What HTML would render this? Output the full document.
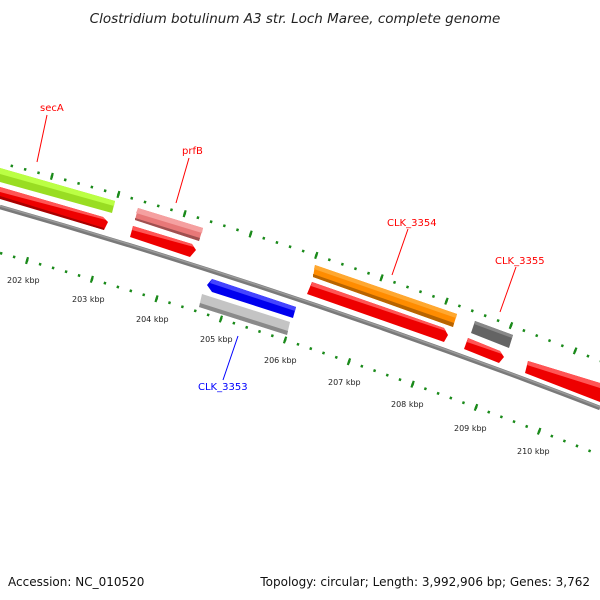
<!DOCTYPE html>
<html><head><meta charset="utf-8"><style>
html,body{margin:0;padding:0;background:#fff;}
svg{display:block;}
text{font-family:"DejaVu Sans","Liberation Sans",sans-serif;}
</style></head><body>
<svg width="600" height="600" viewBox="0 0 600 600" xmlns="http://www.w3.org/2000/svg">
<rect width="600" height="600" fill="#fff"/>
<text x="295" y="23" font-size="13.5" font-style="italic" fill="#222" text-anchor="middle">Clostridium botulinum A3 str. Loch Maree, complete genome</text>

<!-- tick rows -->
<path d="M0,163 Q300,238 600,361" fill="none" stroke="#1a8a1a" stroke-width="2.6" stroke-dasharray="2.4 11.4" stroke-dashoffset="-52.4"/>
<path d="M0,163 Q300,238 600,361" fill="none" stroke="#1a8a1a" stroke-width="7" stroke-dasharray="2.2 66.8" stroke-dashoffset="-52.5"/>
<path d="M0,253 Q300,336 600,455" fill="none" stroke="#1a8a1a" stroke-width="2.6" stroke-dasharray="2.4 11.1" stroke-dashoffset="-27"/>
<path d="M0,253 Q300,336 600,455" fill="none" stroke="#1a8a1a" stroke-width="7" stroke-dasharray="2.2 65.3" stroke-dashoffset="-27"/>

<!-- backbone -->
<path d="M0,207 Q300,292.5 600,408" fill="none" stroke="#7a7a7a" stroke-width="4.5"/>
<path d="M0,206 Q300,291.5 600,407" fill="none" stroke="#9a9a9a" stroke-width="1.5"/>

<!-- secA green -->
<polygon points="0,168 115,201 112,213 0,182" fill="#99dd22"/>
<polygon points="0,168 115,201 114,206 0,174" fill="#bbff44"/>
<!-- red under secA -->
<polygon points="0,187 103,217 108,222 104,230 0,198" fill="#ee0000"/>
<polygon points="0,187 103,217 106,220 0,192" fill="#ff5555"/>
<polygon points="0,196 104,228 104,230 0,199" fill="#aa0000"/>

<!-- prfB -->
<polygon points="138,208 203,228 199,241 135,220" fill="#e87878"/>
<polygon points="138,208 203,228 202,233 136,213" fill="#f5a0a0"/>
<polygon points="135,218 200,238 199,241 135,220" fill="#a05050"/>
<polygon points="133,226 192,244 196,250 190,257 130,237" fill="#ee0000"/>
<polygon points="133,226 192,244 194,247 132,230" fill="#ff5555"/>

<!-- CLK_3353 blue and grey -->
<polygon points="207,285 212,279 296,307 293,318 212,292" fill="#0000ee"/>
<polygon points="212,279 296,307 295,311 210,283" fill="#4444ff"/>
<polygon points="202,294 290,322 287,335 199,307" fill="#c4c4c4"/>
<polygon points="200,303 288,331 287,335 199,307" fill="#8a8a8a"/>

<!-- CLK_3354 orange and red -->
<polygon points="315,265 457,314 453,327 313,277" fill="#ff8c00"/>
<polygon points="315,265 457,314 456,318 314,269" fill="#ffa830"/>
<polygon points="313,274 454,323 453,327 313,277" fill="#b86400"/>
<polygon points="312,282 444,328 448,335 444,342 307,294" fill="#ee0000"/>
<polygon points="312,282 444,328 446,331 311,286" fill="#ff5555"/>

<!-- CLK_3355 -->
<polygon points="475,321 513,335 509,348 471,333" fill="#646464"/>
<polygon points="475,321 513,335 512,338 474,324" fill="#888"/>
<polygon points="468,338 500,351 504,357 499,363 464,349" fill="#ee0000"/>
<polygon points="468,338 500,351 502,354 467,342" fill="#ff5555"/>

<!-- right red -->
<polygon points="528,361 600,383 600,402 525,373" fill="#ee0000"/>
<polygon points="528,361 600,383 600,388 527,365" fill="#ff5555"/>

<!-- labels -->
<g font-size="10" fill="#ff0000">
<text x="40" y="111">secA</text>
<text x="182" y="154">prfB</text>
<text x="387" y="226">CLK_3354</text>
<text x="495" y="264">CLK_3355</text>
</g>
<text x="198" y="390" font-size="10" fill="#0000ff">CLK_3353</text>
<g stroke="#ff0000" stroke-width="1">
<line x1="47" y1="115" x2="37" y2="162"/>
<line x1="189" y1="158" x2="176" y2="203"/>
<line x1="408" y1="229" x2="392" y2="275"/>
<line x1="516" y1="267" x2="500" y2="312"/>
</g>
<line x1="238" y1="336" x2="223" y2="380" stroke="#0000ff" stroke-width="1"/>

<g font-size="8" fill="#222">
<text x="7" y="283">202 kbp</text>
<text x="72" y="302">203 kbp</text>
<text x="136" y="322">204 kbp</text>
<text x="200" y="342">205 kbp</text>
<text x="264" y="363">206 kbp</text>
<text x="328" y="385">207 kbp</text>
<text x="391" y="407">208 kbp</text>
<text x="454" y="431">209 kbp</text>
<text x="517" y="454">210 kbp</text>
</g>

<text x="8" y="586" font-size="12" fill="#111">Accession: NC_010520</text>
<text x="590" y="586" font-size="12" fill="#111" text-anchor="end">Topology: circular; Length: 3,992,906 bp; Genes: 3,762</text>
</svg>
</body></html>
